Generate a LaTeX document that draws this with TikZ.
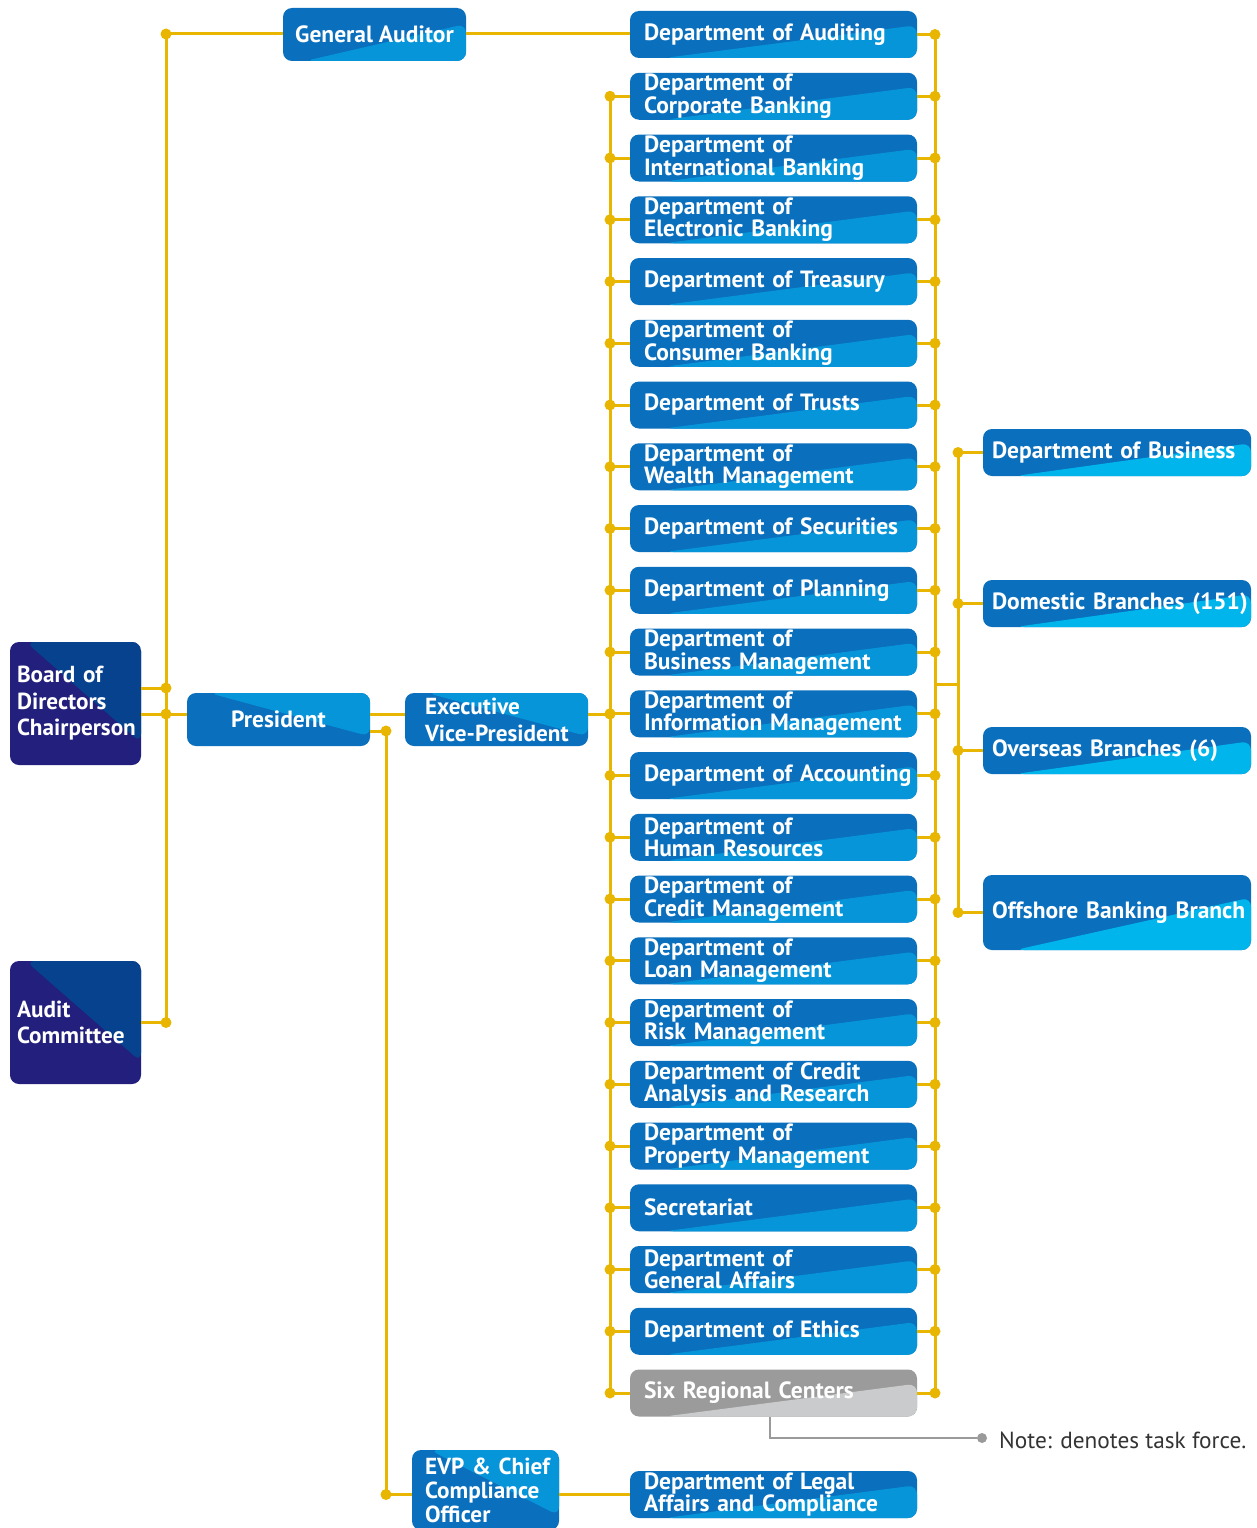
\documentclass[tikz,border=0pt]{standalone}
\usepackage{fontspec}
\setmainfont{PT Sans}
\usepackage{tikz}
\usetikzlibrary{positioning,calc}

\definecolor{deptdark}{HTML}{0A6FBD}
\definecolor{deptlight}{HTML}{0795DA}
\definecolor{brlight}{HTML}{00B5EC}
\definecolor{navydark}{HTML}{231F7C}
\definecolor{navylight}{HTML}{06428E}
\definecolor{taskdark}{HTML}{9B9B9B}
\definecolor{tasklight}{HTML}{CACBCC}
\definecolor{busyellow}{HTML}{E8B600}
\definecolor{notegray}{HTML}{9A9A9A}
\definecolor{notetext}{HTML}{333333}

\newcommand{\boxfont}{\fontsize{23.5}{21}\selectfont\bfseries}
\newcommand{\wideleadfont}{\fontsize{23.2}{26.5}\selectfont\bfseries}
\newcommand{\notefont}{\fontsize{23.3}{26}\selectfont}

\begin{document}
\begin{tikzpicture}[
  x=1pt, y=-1pt,
  node distance=14.75pt,
  lowright/.style={path picture={
      \coordinate (pa) at (path picture bounding box.south west);
      \coordinate (pb) at (path picture bounding box.north east);
      \fill[#1] ($(pa)!0.12!(pa-|pb)$) -- ($(pb)!0.3!(pa-|pb)$) -- (pa-|pb) -- cycle;}},
  upright/.style={path picture={
      \coordinate (pa) at (path picture bounding box.south west);
      \coordinate (pb) at (path picture bounding box.north east);
      \fill[#1] ($(pa|-pb)!0.12!(pb)$) -- ($(pb)!0.82!(pa-|pb)$) -- (pb) -- cycle;}},
  padl/.style={execute at begin node={\leftskip=#1}},
  box/.style={rounded corners=9pt, text=white, font=\boxfont,
              inner ysep=1pt, outer sep=0pt},
  dept/.style={box, fill=deptdark, lowright=deptlight,
               minimum width=287pt, minimum height=47pt,
               text width=279pt, inner xsep=4pt, padl=10pt, align=left},
  task/.style={dept, fill=taskdark, lowright=tasklight},
  branch/.style={box, fill=deptdark, lowright=brlight,
                 minimum width=268pt, minimum height=47pt,
                 text width=266pt, inner xsep=1pt, padl=8pt, align=left},
  chief/.style={box, fill=deptdark, upright=deptlight,
                minimum width=183pt, minimum height=53pt, align=center},
  board/.style={box, fill=navydark, upright=navylight, font=\wideleadfont,
                minimum width=131pt, minimum height=123pt,
                text width=125pt, inner xsep=3pt, padl=4pt, align=left},
  bus/.style={busyellow, line width=3pt},
  dot/.style={circle, fill=busyellow, inner sep=0pt, minimum size=11pt},
  gdot/.style={circle, fill=notegray, inner sep=0pt, minimum size=10pt},
]
\useasboundingbox (0,0) rectangle (1257,1528);

%% Board and committee
\node[board] (bd) at (75.5,703.5) {Board of\\Directors\\Chairperson};
\node[board] (ac) at (75.5,1022.5) {Audit\\Committee};

%% Executives
\node[chief, lowright=deptlight] (ga) at (374.5,34.5) {General Auditor};
\node[chief] (pres) at (278.5,719.5) {President};
\node[chief, text width=175pt, inner xsep=4pt, padl=16pt, align=left,
      font=\fontsize{23.2}{27}\selectfont\bfseries]
  (evp) at (496.5,719.5) {Executive\\Vice-President};
\node[chief, minimum width=147pt, minimum height=80pt, text width=141pt, inner xsep=3pt,
      padl=10pt, align=left, font=\fontsize{23.2}{24}\selectfont\bfseries]
  (cco) at (485.5,1490) {EVP \& Chief\\Compliance\\Officer};

%% Departments
\node[dept] (d1) at (773.5,34.5) {Department of Auditing};
\node[dept, below=of d1] (d2) {Department of\\Corporate Banking};
\node[dept, below=of d2] (d3) {Department of\\International Banking};
\node[dept, below=of d3] (d4) {Department of\\Electronic Banking};
\node[dept, below=of d4] (d5) {Department of Treasury};
\node[dept, below=of d5] (d6) {Department of\\Consumer Banking};
\node[dept, below=of d6] (d7) {Department of Trusts};
\node[dept, below=of d7] (d8) {Department of\\Wealth Management};
\node[dept, below=of d8] (d9) {Department of Securities};
\node[dept, below=of d9] (d10) {Department of Planning};
\node[dept, below=of d10] (d11) {Department of\\Business Management};
\node[dept, below=of d11] (d12) {Department of\\Information Management};
\node[dept, below=of d12] (d13) {Department of Accounting};
\node[dept, below=of d13] (d14) {Department of\\Human Resources};
\node[dept, below=of d14] (d15) {Department of\\Credit Management};
\node[dept, below=of d15] (d16) {Department of\\Loan Management};
\node[dept, below=of d16] (d17) {Department of\\Risk Management};
\node[dept, below=of d17] (d18) {Department of Credit\\Analysis and Research};
\node[dept, below=of d18] (d19) {Department of\\Property Management};
\node[dept, below=of d19] (d20) {Secretariat};
\node[dept, below=of d20] (d21) {Department of\\General Affairs};
\node[dept, below=of d21] (d22) {Department of Ethics};
\node[task, below=of d22] (d23) {Six Regional Centers};
\node[dept] (legal) at (773.5,1494.5) {Department of Legal\\Affairs and Compliance};

%% Branches
\node[branch] (br1) at (1117,452.5) {Department of Business};
\node[branch] (br2) at (1117,603.5) {Domestic Branches~(151)};
\node[branch] (br3) at (1117,750.5) {Overseas Branches (6)};
\node[branch, minimum height=75pt] (br4) at (1117,912.5) {Offshore Banking Branch};

%% Bus lines
\coordinate (lv) at (166,34);
\coordinate (py) at (166,714);
\coordinate (pc) at (386,731);
\coordinate (lb) at (610,96);
\coordinate (rb) at (935,34);
\coordinate (bv) at (958,684);

\draw[bus] (ga.west|-lv) -- (lv) node[dot]{} -- (lv|-ac) node[dot]{} -- (ac);
\draw[bus] ([yshift=15.5pt]bd.east) -- ++(25,0) node[dot]{};
\draw[bus] (bd.east|-py) -- (py) node[dot]{} -- (pres.west|-py);
\draw[bus] (pres.east|-py) -- (evp.west|-py);
\draw[bus] (evp.east|-py) -- (lb|-py) node[dot]{};
\draw[bus] (ga.east|-lv) -- (d1.west|-lv);
\draw[bus] (pres.east|-pc) -- (pc) node[dot]{} -- (pc|-legal) node[dot]{} -- (cco.west|-legal);
\draw[bus] (cco.east|-legal) -- (legal);

\draw[bus] (lb|-d2) -- (lb|-d23);
\draw[bus] (rb|-d1) -- (rb|-d23);
\draw[bus] (d1) -- (rb|-d1) node[dot]{};
\draw[bus] (lb|-d2) node[dot]{} -- (d2) -- (rb|-d2) node[dot]{};
\draw[bus] (lb|-d3) node[dot]{} -- (d3) -- (rb|-d3) node[dot]{};
\draw[bus] (lb|-d4) node[dot]{} -- (d4) -- (rb|-d4) node[dot]{};
\draw[bus] (lb|-d5) node[dot]{} -- (d5) -- (rb|-d5) node[dot]{};
\draw[bus] (lb|-d6) node[dot]{} -- (d6) -- (rb|-d6) node[dot]{};
\draw[bus] (lb|-d7) node[dot]{} -- (d7) -- (rb|-d7) node[dot]{};
\draw[bus] (lb|-d8) node[dot]{} -- (d8) -- (rb|-d8) node[dot]{};
\draw[bus] (lb|-d9) node[dot]{} -- (d9) -- (rb|-d9) node[dot]{};
\draw[bus] (lb|-d10) node[dot]{} -- (d10) -- (rb|-d10) node[dot]{};
\draw[bus] (lb|-d11) node[dot]{} -- (d11) -- (rb|-d11) node[dot]{};
\draw[bus] (lb|-d12) node[dot]{} -- (d12) -- (rb|-d12) node[dot]{};
\draw[bus] (lb|-d13) node[dot]{} -- (d13) -- (rb|-d13) node[dot]{};
\draw[bus] (lb|-d14) node[dot]{} -- (d14) -- (rb|-d14) node[dot]{};
\draw[bus] (lb|-d15) node[dot]{} -- (d15) -- (rb|-d15) node[dot]{};
\draw[bus] (lb|-d16) node[dot]{} -- (d16) -- (rb|-d16) node[dot]{};
\draw[bus] (lb|-d17) node[dot]{} -- (d17) -- (rb|-d17) node[dot]{};
\draw[bus] (lb|-d18) node[dot]{} -- (d18) -- (rb|-d18) node[dot]{};
\draw[bus] (lb|-d19) node[dot]{} -- (d19) -- (rb|-d19) node[dot]{};
\draw[bus] (lb|-d20) node[dot]{} -- (d20) -- (rb|-d20) node[dot]{};
\draw[bus] (lb|-d21) node[dot]{} -- (d21) -- (rb|-d21) node[dot]{};
\draw[bus] (lb|-d22) node[dot]{} -- (d22) -- (rb|-d22) node[dot]{};
\draw[bus] (lb|-d23) node[dot]{} -- (d23) -- (rb|-d23) node[dot]{};

%% Branch bus
\draw[bus] (rb|-bv) -- (bv);
\draw[bus] (bv|-br1) -- (bv|-br4);
\draw[bus] (bv|-br1) node[dot]{} -- (br1);
\draw[bus] (bv|-br2) node[dot]{} -- (br2);
\draw[bus] (bv|-br3) node[dot]{} -- (br3);
\draw[bus] (bv|-br4) node[dot]{} -- (br4);

%% Note
\node[gdot] (ndot) at (982,1438) {};
\node[anchor=west, font=\notefont, text=notetext, inner sep=0pt] (note) at (999,1440)
  {Note: denotes task force.};
\draw[notegray, line width=2.5pt] ([xshift=-3.5pt]d23.south) |- (ndot);

\end{tikzpicture}
\end{document}
